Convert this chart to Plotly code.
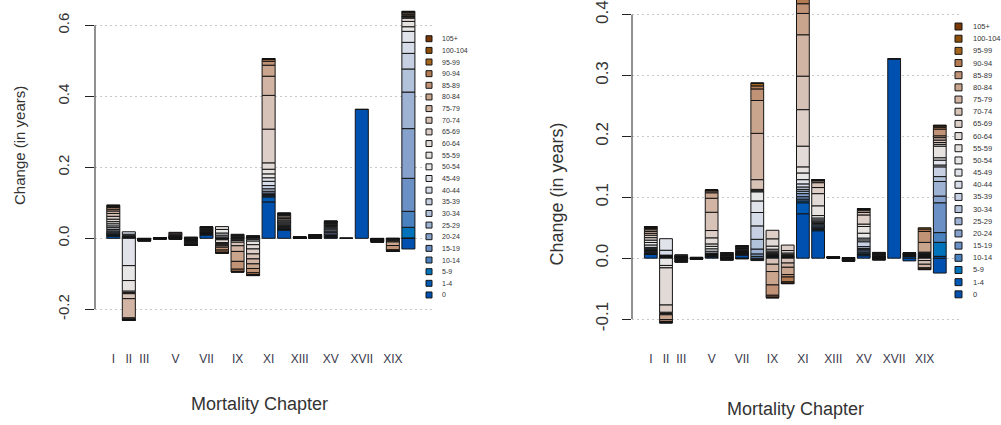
import plotly.graph_objects as go

# ---------------------------------------------------------------------------
# Age groups (stacking order, bottom -> top) and their fill colours
# ---------------------------------------------------------------------------
AGE_GROUPS = ["0", "1-4", "5-9", "10-14", "15-19", "20-24", "25-29", "30-34",
              "35-39", "40-44", "45-49", "50-54", "55-59", "60-64", "65-69",
              "70-74", "75-79", "80-84", "85-89", "90-94", "95-99", "100-104",
              "105+"]
AGE_COLORS = ["#0050B0", "#0059B4", "#0073BB", "#4A82C0", "#6A90C6", "#86A2CC",
              "#9EB2D3", "#B3C2DB", "#C6D0E2", "#D6DCE8", "#E0E3EA", "#E7E7E8",
              "#E6E2E0", "#E2DAD6", "#DDCFC8", "#D7C2B7", "#D1B4A4", "#C9A58E",
              "#C09276", "#B47A52", "#A6661E", "#8E4E0C", "#7A3806"]

CHAPTERS = ["I", "II", "III", "IV", "V", "VI", "VII", "VIII", "IX", "X",
            "XI", "XII", "XIII", "XIV", "XV", "XVI", "XVII", "XVIII", "XIX", "XX"]
SHOWN_CHAPTERS = ["I", "II", "III", "V", "VII", "IX", "XI", "XIII", "XV", "XVII", "XIX"]

LEFT_Y_TICKS = [-0.2, 0.0, 0.2, 0.4, 0.6]
LEFT_Y_LABELS = ["-0.2", "0.0", "0.2", "0.4", "0.6"]
RIGHT_Y_TICKS = [-0.1, 0.0, 0.1, 0.2, 0.3, 0.4]
RIGHT_Y_LABELS = ["-0.1", "0.0", "0.1", "0.2", "0.3", "0.4"]

# ---------------------------------------------------------------------------
# Change in life expectancy (years) by chapter, one value per age group
# Left panel
# ---------------------------------------------------------------------------
left_I = [0.006, 0.002, 0.001, 0.001, 0.002, 0.003, 0.003, 0.003, 0.004, 0.005, 0.005, 0.006,
          0.006, 0.007, 0.008, 0.008, 0.007, 0.005, 0.005, 0.003, 0.002, 0.001, 0.0005]
left_II = [0.001, 0.0005, 0.0005, 0.0005, 0.001, 0.001, 0.001, 0.002, 0.004, 0.007, -0.077, -0.042,
           -0.030, -0.004, -0.003, -0.014, -0.054, -0.003, -0.002, -0.001, -0.0005, -0.0002, -0.0001]
left_III = [-0.0004, -0.0002, -0.0001, -0.0001, -0.0002, -0.0003, -0.0003, -0.0003, -0.0003, -0.0004,
            -0.0004, -0.0004, -0.0004, -0.0004, -0.0005, -0.0005, -0.0005, -0.0005, -0.0004, -0.0002,
            -0.0001, -0.00005, -0.00002]
left_IV = [0.0003, 0.0001, 0.0001, 0.0001, 0.0001, 0.0002, 0.0002, 0.0002, 0.0002, 0.0002, 0.0002,
           0.0001, 0.0001, -0.0001, -0.0002, -0.0002, -0.0003, -0.0003, -0.0002, -0.0001, -0.0001,
           -0.00005, -0.00002]
left_V = [0.001, 0.0005, 0.0003, 0.0003, 0.0005, 0.0005, 0.0005, 0.0005, 0.0005, 0.0006, 0.0007, 0.0008,
          0.001, 0.001, 0.0012, 0.0025, 0.003, 0.0015, -0.001, -0.0006, -0.0002, -0.0001, -0.00005]
left_VI = [-0.0015, -0.0005, -0.0005, -0.0005, 0.0005, 0.0008, 0.0008, 0.0006, 0.0004, -0.0008, -0.001,
           -0.0012, -0.0015, -0.0018, -0.002, -0.002, -0.002, -0.0018, -0.0012, -0.0006, -0.0002,
           -0.0001, -0.00005]
left_VII = [0.009, 0.002, 0.001, 0.001, 0.001, 0.001, 0.001, 0.001, 0.001, 0.001, 0.001, 0.0012,
            0.0013, 0.0014, 0.0015, 0.0015, 0.0015, 0.0015, 0.0012, 0.0007, 0.0003, 0.0001, 0.00005]
left_VIII = [0.0005, 0.0003, 0.0002, -0.0003, -0.0008, -0.001, -0.001, -0.001, 0.003, 0.005, 0.006, 0.010,
             0.008, -0.008, -0.003, -0.003, -0.003, -0.004, -0.008, -0.006, -0.002, -0.0005, -0.0002]
left_IX = [0.001, 0.0005, 0.0003, 0.0003, 0.0005, 0.0008, 0.001, 0.0015, 0.002, 0.002, 0.0015, -0.001,
           -0.002, -0.003, -0.005, -0.010, -0.016, -0.028, -0.022, -0.006, -0.0015, -0.0003, -0.0001]
left_X = [0.002, 0.001, 0.0005, 0.0005, 0.0005, 0.0005, 0.0005, 0.0005, 0.0005, 0.0005, -0.003, -0.005,
          -0.010, -0.012, -0.014, -0.014, -0.014, -0.013, -0.012, -0.005, -0.002, -0.0008, -0.0003]
left_XI = [0.1026, 0.014, 0.003, 0.002, 0.002, 0.004, 0.005, 0.007, 0.009, 0.012, 0.010, 0.011,
           0.013, 0.018, 0.095, 0.095, 0.054, 0.031, 0.011, 0.005, 0.002, 0.0005, 0.0002]
left_XII = [0.023, 0.002, 0.001, 0.001, 0.002, 0.002, 0.002, 0.002, 0.002, 0.003, 0.003, 0.003,
            0.003, 0.003, 0.004, 0.004, 0.004, 0.003, 0.002, 0.001, 0.0005, 0.0002, 0.0001]
left_XIII = [0.0004, 0.0001, 0.0001, 0.0001, 0.0001, 0.0001, 0.0001, 0.0001, 0.0001, 0.0002, 0.0002,
             0.0002, 0.0002, 0.0002, 0.0002, 0.0002, 0.0002, 0.0002, 0.0001, 0.0001, 0.00005, 0.00002,
             0.00001]
left_XIV = [0.001, 0.0003, 0.0002, 0.0002, 0.0003, 0.0004, 0.0004, 0.0004, 0.0004, 0.0005, 0.0005,
            0.0005, 0.0006, 0.0006, 0.0006, 0.0006, 0.0006, 0.0005, 0.0004, 0.0002, 0.0001, 0.00005,
            0.00002]
left_XV = [0.002, 0.001, 0.002, 0.003, 0.004, 0.004, 0.004, 0.004, 0.003, 0.003, 0.003, 0.003,
           0.002, 0.002, 0.002, 0.002, 0.002, 0.001, 0.0005, 0.0003, 0.0001, 0.00005, 0.00002]
left_XVI = [0.0006, 0.0001, 0, 0, 0, 0, 0, 0, 0, 0, 0, 0, 0, 0, 0, 0, 0, 0, 0, 0, 0, 0, 0]
left_XVII = [0.363, 0.0005, 0, 0, 0, 0, 0, 0, 0, 0, 0, 0, 0, 0, 0, 0, 0, 0, 0, 0, 0, 0, 0]
left_XVIII = [-0.0006, -0.0002, -0.0002, -0.0002, -0.0003, -0.0004, -0.0004, -0.0004, -0.0004, -0.0005,
              -0.0005, -0.0005, -0.0006, -0.0006, -0.0006, -0.0007, -0.0008, -0.0008, -0.0007, -0.0004,
              -0.0002, -0.0001, -0.00005]
left_XIX = [-0.0003, -0.0001, -0.0001, -0.0001, -0.0002, -0.0002, -0.0002, -0.0002, -0.0003, -0.0003,
            -0.0004, -0.0005, -0.0006, -0.0008, -0.001, -0.002, -0.003, -0.010, -0.012, -0.003, -0.001,
            -0.0004, -0.0002]
left_XX = [-0.030, 0.001, 0.030, 0.045, 0.093, 0.140, 0.103, 0.065, 0.044, 0.031, 0.031, 0.013,
           0.015, 0.009, 0.003, 0.002, 0.002, 0.004, 0.004, 0.002, 0.001, 0.001, 0.0005]

# Right panel
right_I = [0.006, 0.0013, 0.0013, 0.0013, 0.0013, 0.0013, 0.0013, 0.0013, 0.0013, 0.0013, 0.004, 0.004,
           0.004, 0.004, 0.004, 0.003, 0.003, 0.003, 0.002, 0.0015, 0.001, 0.0005, 0.0002]
right_II = [0.001, 0.0005, 0.0005, 0.0005, 0.0005, 0.0005, 0.0005, 0.0005, 0.0005, 0.008, 0.019, -0.012,
            -0.004, -0.061, -0.012, -0.002, -0.002, -0.008, -0.003, -0.0015, -0.0005, -0.0002, -0.0001]
right_III = [0.001, 0.0003, 0.0003, 0.0003, 0.0004, 0.0004, 0.0004, 0.0004, 0.0004, 0.0005, 0.0005,
             0.0005, -0.0005, -0.0005, -0.0006, -0.0007, -0.0008, -0.0009, -0.0009, -0.0007, -0.0004,
             -0.0002, -0.0001]
right_IV = [0.0002, 0.0001, 0.0001, 0.0001, 0.0001, 0.0001, 0.0001, 0.0001, 0.0001, 0.0001, 0.0001,
            0.0001, -0.0001, -0.0001, -0.0002, -0.0002, -0.0003, -0.0003, -0.0003, -0.0002, -0.0001,
            -0.00005, -0.00002]
right_V = [0.002, 0.0008, 0.0008, 0.0008, 0.0008, 0.0008, 0.0008, 0.0008, 0.0008, 0.003, 0.004, 0.004,
           0.004, 0.010, 0.012, 0.030, 0.023, 0.009, 0.003, 0.001, 0.0005, 0.0002, 0.0001]
right_VI = [0.001, 0.0004, 0.0004, 0.0004, 0.0005, 0.0006, 0.0006, 0.0006, 0.0006, 0.0006, 0.0006,
            0.0006, 0.0006, 0.0006, 0.0006, 0.0005, -0.0004, -0.0008, -0.0008, -0.0005, -0.0002,
            -0.0001, -0.00005]
right_VII = [0.005, 0.001, 0.0005, 0.0005, 0.0007, 0.0008, 0.0008, 0.0008, 0.0008, 0.0009, 0.001, 0.001,
             0.001, 0.001, 0.001, 0.001, 0.001, 0.0008, 0.0006, 0.0003, -0.0005, -0.0003, -0.0002]
right_VIII = [-0.001, -0.0005, -0.001, -0.0015, 0.003, 0.004, 0.008, 0.016, 0.022, 0.022, 0.019, 0.015,
              0.0015, 0.0015, 0.001, 0.016, 0.076, 0.054, 0.019, 0.005, 0.004, 0.0005, 0.0002]
right_IX = [0.002, 0.0005, 0.0005, 0.0005, 0.0008, 0.001, 0.001, 0.001, 0.001, 0.0015, 0.002, 0.003,
            0.005, 0.012, 0.014, -0.010, -0.012, -0.022, -0.017, -0.003, -0.0008, -0.0002, -0.0001]
right_X = [0.001, 0.0003, 0.0003, 0.0003, 0.0004, 0.0004, 0.0004, 0.0005, 0.0005, 0.0006, 0.0008, 0.001,
           0.002, 0.004, 0.009, -0.008, -0.007, -0.012, -0.004, -0.008, -0.002, -0.0007, -0.0003]
right_XI = [0.073, 0.018, 0.003, 0.003, 0.004, 0.005, 0.004, 0.003, 0.004, 0.005, 0.007, 0.011,
            0.010, 0.034, 0.060, 0.055, 0.068, 0.035, 0.016, 0.008, 0.006, 0.004, 0.002]
right_XII = [0.045, 0.002, 0.002, 0.002, 0.002, 0.002, 0.002, 0.002, 0.002, 0.002, 0.003, 0.004,
             0.016, 0.020, 0.010, 0.008, 0.003, 0.001, 0.0005, 0.0002, 0.0001, 0.00005, 0.00002]
right_XIII = [0.0003, 0.0001, 0.0001, 0.0001, 0.0001, 0.0001, 0.0001, 0.0001, 0.0001, 0.0001, 0.0001,
              0.0001, 0.0001, 0.0001, 0.0001, 0.0001, 0.0001, 0.0001, 0.0001, 0.00005, 0.00002, 0.00001,
              0.00001]
right_XIV = [0.0003, 0.0001, 0.0001, 0.0001, 0.0001, 0.0001, 0.0001, 0.0001, -0.0002, -0.0002, -0.0002,
             -0.0003, -0.0003, -0.0004, -0.0004, -0.0005, -0.0006, -0.0006, -0.0005, -0.0003, -0.0001,
             -0.00005, -0.00002]
right_XV = [0.004, 0.002, 0.001, 0.002, 0.003, 0.002, 0.002, 0.003, 0.008, 0.003, 0.003, 0.008,
            0.011, 0.004, 0.015, 0.004, 0.003, 0.002, 0.0008, 0.0003, 0.0001, 0.00005, 0.00002]
right_XVI = [0.001, 0.0005, 0.0005, 0.0005, 0.0005, 0.0006, 0.0006, 0.0006, 0.0006, 0.0006, 0.0006,
             0.0006, 0.0006, 0.0006, 0.0006, 0.0005, -0.0004, -0.0005, -0.0006, -0.0006, -0.0004,
             -0.0002, -0.0001]
right_XVII = [0.327, 0.001, 0, 0, 0, 0, 0, 0, 0, 0, 0, 0, 0, 0, 0, 0, 0, 0, 0, 0, 0, 0, 0]
right_XVIII = [-0.0045, 0.0025, 0.0005, 0.0004, 0.0004, 0.0004, 0.0004, 0.0004, 0.0004, 0.0003, 0.0003,
               0.0003, 0.0003, 0.0003, 0.0003, 0.0003, 0.0003, 0.0003, 0.0002, 0.0001, 0.00005, 0.00002,
               0.00001]
right_XIX = [0.0005, 0.0002, 0.0002, 0.0002, 0.0004, 0.0005, 0.0006, 0.0008, 0.001, 0.0015, 0.001, 0.001,
             0.001, 0.001, -0.004, -0.006, -0.006, 0.016, 0.018, 0.004, 0.002, -0.002, -0.001]
right_XX = [-0.0245, 0.003, 0.023, 0.016, 0.049, 0.011, 0.024, 0.008, 0.016, 0.003, 0.008, 0.004,
            0.019, 0.003, 0.003, 0.004, 0.004, 0.003, 0.011, 0.003, 0.002, 0.001, 0.0005]

left_rows = [left_I, left_II, left_III, left_IV, left_V, left_VI, left_VII, left_VIII, left_IX, left_X,
             left_XI, left_XII, left_XIII, left_XIV, left_XV, left_XVI, left_XVII, left_XVIII, left_XIX,
             left_XX]
right_rows = [right_I, right_II, right_III, right_IV, right_V, right_VI, right_VII, right_VIII, right_IX,
              right_X, right_XI, right_XII, right_XIII, right_XIV, right_XV, right_XVI, right_XVII,
              right_XVIII, right_XIX, right_XX]

# ---------------------------------------------------------------------------
# Page geometry (pixels)
# ---------------------------------------------------------------------------
W, H = 1001, 425
FONT = "Liberation Sans, Arial, Helvetica, sans-serif"
EDGE = "#141414"
TEXT = "#333333"
GRID = "#c8c8c8"
PLOT_BOTTOM = 330          # bottom of both plotting regions
BAR_WIDTH = 0.84


def fx(px):
    return px / W


def fy(px):
    return 1 - px / H


panels = [
    dict(rows=left_rows, xa="x", ya="y", dom=(95, 432), xr=(-0.178, 21.52),
         yr=(-0.2517, 0.6713), ticks=LEFT_Y_TICKS, labels=LEFT_Y_LABELS,
         ytick_size=15, ytick_standoff=10, legend_x=429, legend_top=39, legend_step=11.73,
         legend_sq=6, legend_font=7, legend_text_x=440),
    dict(rows=right_rows, xa="x2", ya="y2", dom=(632, 962), xr=(-0.236, 21.46),
         yr=(-0.1142, 0.4241), ticks=RIGHT_Y_TICKS, labels=RIGHT_Y_LABELS,
         ytick_size=17, ytick_standoff=7, legend_x=958.5, legend_top=26.7, legend_step=12.26,
         legend_sq=7, legend_font=7.5, legend_text_x=971),
]

fig = go.Figure()
xs = list(range(1, len(CHAPTERS) + 1))

for p in panels:
    for a, age in enumerate(AGE_GROUPS):
        ys = [row[a] if row[a] != 0 else None for row in p["rows"]]
        fig.add_trace(go.Bar(
            x=xs, y=ys, name=age, width=BAR_WIDTH,
            marker=dict(color=AGE_COLORS[a], line=dict(color=EDGE, width=1)),
            xaxis=p["xa"], yaxis=p["ya"], showlegend=False,
            hovertemplate="Chapter %{x}<br>Age " + age + ": %{y:.4f}<extra></extra>",
        ))

shown_pos = [CHAPTERS.index(c) + 1 for c in SHOWN_CHAPTERS]

layout = dict(
    width=W, height=H, margin=dict(l=0, r=0, t=0, b=0),
    paper_bgcolor="white", plot_bgcolor="white",
    barmode="relative", showlegend=False,
    font=dict(family=FONT, color=TEXT),
)

shapes, annotations = [], []
for i, p in enumerate(panels):
    xk = "xaxis" if i == 0 else "xaxis2"
    yk = "yaxis" if i == 0 else "yaxis2"
    layout[xk] = dict(
        domain=[fx(p["dom"][0]), fx(p["dom"][1])], range=list(p["xr"]),
        anchor=p["ya"], tickmode="array", tickvals=shown_pos, ticktext=SHOWN_CHAPTERS,
        ticks="", showgrid=False, zeroline=False, showline=False,
        tickfont=dict(size=12, color="#3a3a4c", family=FONT),
        ticklabelstandoff=22,
    )
    layout[yk] = dict(
        domain=[fy(PLOT_BOTTOM), 1.0], range=list(p["yr"]), anchor=p["xa"],
        tickmode="array", tickvals=p["ticks"], ticktext=p["labels"], tickangle=-90,
        ticks="outside", ticklen=9, tickwidth=1, tickcolor="#222222",
        showgrid=True, gridcolor=GRID, griddash="2px,3px", gridwidth=1,
        zeroline=False, showline=False,
        tickfont=dict(size=p["ytick_size"], color=TEXT, family=FONT),
        ticklabelstandoff=p["ytick_standoff"],
    )
    # axis line spanning only the tick range
    shapes.append(dict(type="line", xref=p["xa"] + " domain", yref=p["ya"],
                       x0=0, x1=0, y0=p["ticks"][0], y1=p["ticks"][-1],
                       line=dict(color="#222222", width=1)))
    # age-group key, oldest at the top
    for j, age in enumerate(reversed(AGE_GROUPS)):
        col = AGE_COLORS[len(AGE_GROUPS) - 1 - j]
        cy = p["legend_top"] + j * p["legend_step"]
        h = p["legend_sq"] / 2
        shapes.append(dict(type="rect", xref="paper", yref="paper",
                           x0=fx(p["legend_x"] - h), x1=fx(p["legend_x"] + h),
                           y0=fy(cy + h), y1=fy(cy - h),
                           fillcolor=col, line=dict(color=EDGE, width=1)))
        annotations.append(dict(xref="paper", yref="paper", x=fx(p["legend_text_x"]), y=fy(cy),
                                text=age, showarrow=False, xanchor="left", yanchor="middle",
                                font=dict(size=p["legend_font"], color=TEXT, family=FONT)))

# axis titles
annotations += [
    dict(xref="paper", yref="paper", x=fx(20), y=fy(147), text="Change (in years)",
         textangle=-90, showarrow=False, xanchor="center", yanchor="middle",
         font=dict(size=15, color=TEXT, family=FONT)),
    dict(xref="paper", yref="paper", x=fx(557), y=fy(196), text="Change (in years)",
         textangle=-90, showarrow=False, xanchor="center", yanchor="middle",
         font=dict(size=18, color=TEXT, family=FONT)),
    dict(xref="paper", yref="paper", x=fx(259), y=fy(407), text="Mortality Chapter",
         showarrow=False, xanchor="center", yanchor="middle",
         font=dict(size=18, color=TEXT, family=FONT)),
    dict(xref="paper", yref="paper", x=fx(795), y=fy(412), text="Mortality Chapter",
         showarrow=False, xanchor="center", yanchor="middle",
         font=dict(size=18, color=TEXT, family=FONT)),
]

layout["shapes"] = shapes
layout["annotations"] = annotations
fig.update_layout(**layout)

fig.write_html("out.html")
